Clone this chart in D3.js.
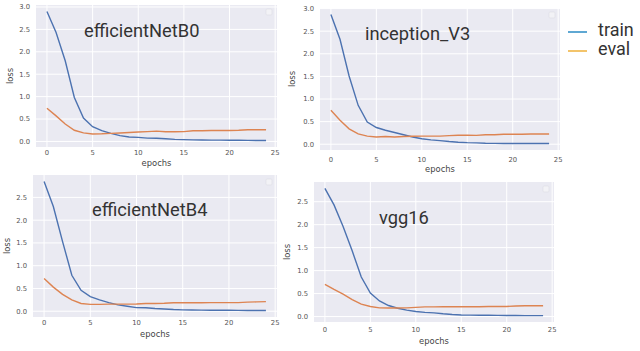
<!DOCTYPE html>
<html><head><meta charset="utf-8">
<script src="https://cdn.jsdelivr.net/npm/d3@7"></script>
<style>
html,body{margin:0;padding:0;background:#fff;}
svg{display:block;}
</style></head>
<body><svg id="c" width="640" height="351"></svg>
<script>
const epochs = [0,1,2,3,4,5,6,7,8,9,10,11,12,13,14,15,16,17,18,19,20,21,22,23,24];
const xTicks = [0,5,10,15,20,25];
const modelNames = ["efficientNetB0","inception_V3","efficientNetB4","vgg16"];
const legendLabels = ["train","eval"];

const trainB0 = [2.90,2.43,1.80,0.98,0.52,0.33,0.24,0.18,0.13,0.10,0.09,0.075,0.07,0.06,0.045,0.04,0.035,0.033,0.03,0.03,0.028,0.026,0.024,0.022,0.02];
const evalB0  = [0.74,0.57,0.39,0.25,0.19,0.165,0.17,0.18,0.19,0.20,0.21,0.22,0.23,0.215,0.215,0.22,0.24,0.24,0.245,0.245,0.245,0.25,0.26,0.26,0.26];
const trainV3 = [2.87,2.32,1.51,0.86,0.49,0.37,0.31,0.26,0.21,0.16,0.12,0.095,0.08,0.06,0.045,0.035,0.03,0.02,0.018,0.017,0.016,0.015,0.015,0.015,0.015];
const evalV3  = [0.75,0.53,0.34,0.23,0.18,0.16,0.17,0.16,0.17,0.175,0.18,0.18,0.18,0.19,0.20,0.20,0.195,0.21,0.21,0.22,0.22,0.22,0.225,0.225,0.225];
const trainB4 = [2.85,2.30,1.53,0.79,0.46,0.32,0.25,0.19,0.14,0.11,0.08,0.075,0.06,0.05,0.037,0.03,0.028,0.025,0.022,0.02,0.02,0.018,0.016,0.015,0.015];
const evalB4  = [0.72,0.53,0.37,0.25,0.17,0.15,0.15,0.155,0.155,0.155,0.16,0.17,0.17,0.175,0.185,0.185,0.185,0.185,0.19,0.19,0.19,0.19,0.20,0.205,0.21];
const trainVGG = [2.79,2.43,1.96,1.43,0.86,0.51,0.34,0.24,0.18,0.14,0.11,0.09,0.08,0.06,0.045,0.035,0.032,0.03,0.028,0.026,0.024,0.022,0.02,0.02,0.02];
const evalVGG  = [0.70,0.59,0.49,0.37,0.27,0.22,0.19,0.185,0.185,0.19,0.20,0.21,0.21,0.215,0.215,0.215,0.215,0.215,0.22,0.22,0.22,0.23,0.235,0.235,0.235];

const trainSeries = [trainB0, trainV3, trainB4, trainVGG];
const evalSeries = [evalB0, evalV3, evalB4, evalVGG];

// layout of each panel (plot area)
const layout = [
  {x0:36, x1:277, y0:5, y1:147, ylab:10, tx:84, ty:37, tickY:155, labY:166},
  {x0:320, x1:560, y0:8, y1:150, ylab:292, tx:365, ty:40, tickY:162, labY:172},
  {x0:33, x1:277, y0:175, y1:317, ylab:7, tx:92, ty:216, tickY:325, labY:337},
  {x0:314, x1:554, y0:182, y1:322, ylab:287, tx:379, ty:224, tickY:332, labY:344}
];

const svg = d3.select("#c");
const tickFont = "DejaVu Sans, sans-serif";

layout.forEach((L, i) => {
  const tr = trainSeries[i], ev = evalSeries[i];
  const all = tr.concat(ev);
  const lo = d3.min(all), hi = d3.max(all);
  const pad = (hi - lo) * 0.05;
  const xmin = d3.min(epochs), xmax = d3.max(epochs);
  const xpad = (xmax - xmin) * 0.05;
  const x = d3.scaleLinear().domain([xmin - xpad, xmax + xpad]).range([L.x0, L.x1]);
  const y = d3.scaleLinear().domain([lo - pad, hi + pad]).range([L.y1, L.y0]);
  const g = svg.append("g");
  g.append("rect").attr("x", L.x0).attr("y", L.y0).attr("width", L.x1 - L.x0).attr("height", L.y1 - L.y0).attr("fill", "#eaeaf2");
  const yTicks = d3.range(0, hi + pad + 1e-9, 0.5);
  // grid
  g.selectAll(".gx").data(xTicks).enter().append("line")
    .attr("x1", d => x(d)).attr("x2", d => x(d)).attr("y1", L.y0).attr("y2", L.y1)
    .attr("stroke", "#fff").attr("stroke-width", 1);
  g.selectAll(".gy").data(yTicks).enter().append("line")
    .attr("y1", d => y(d)).attr("y2", d => y(d)).attr("x1", L.x0).attr("x2", L.x1)
    .attr("stroke", "#fff").attr("stroke-width", 1);
  // tick labels
  g.selectAll(".tx").data(xTicks).enter().append("text")
    .attr("x", d => x(d)).attr("y", L.tickY).attr("text-anchor", "middle")
    .attr("font-family", tickFont).attr("font-size", 6.8).attr("fill", "#555")
    .text(d => d);
  g.selectAll(".ty").data(yTicks).enter().append("text")
    .attr("x", L.x0 - 6).attr("y", d => y(d) + 2.4).attr("text-anchor", "end")
    .attr("font-family", tickFont).attr("font-size", 6.8).attr("fill", "#555")
    .text(d => d.toFixed(1));
  // axis labels
  g.append("text").attr("x", (L.x0 + L.x1) / 2).attr("y", L.labY).attr("text-anchor", "middle")
    .attr("font-family", tickFont).attr("font-size", 8.4).attr("fill", "#444").text("epochs");
  g.append("text").attr("transform", `translate(${L.ylab},${(L.y0 + L.y1) / 2}) rotate(-90)`)
    .attr("text-anchor", "middle").attr("dy", "0.35em")
    .attr("font-family", tickFont).attr("font-size", 8.4).attr("fill", "#444").text("loss");
  // lines
  const line = d3.line().x((d, j) => x(epochs[j])).y(d => y(d));
  g.append("path").datum(tr).attr("d", line).attr("fill", "none").attr("stroke", "#4c72b0").attr("stroke-width", 1.4);
  g.append("path").datum(ev).attr("d", line).attr("fill", "none").attr("stroke", "#dd8452").attr("stroke-width", 1.4);
  // empty legend box
  g.append("rect").attr("x", L.x1 - 11).attr("y", L.y0 + 4).attr("width", 6).attr("height", 6).attr("rx", 1)
    .attr("fill", "#f2f2f6").attr("stroke", "#dcdce4").attr("stroke-width", 0.6);
  // title
  g.append("text").attr("x", L.tx).attr("y", L.ty).attr("font-family", "Roboto, sans-serif")
    .attr("font-size", 18.3).attr("fill", "#333").text(modelNames[i]);
});

// legend
const legendColors = ["#5fa8d3", "#f3c46b"];
const lg = svg.append("g");
legendLabels.forEach((t, k) => {
  const yy = 32 + k * 19;
  lg.append("line").attr("x1", 568).attr("x2", 587).attr("y1", yy).attr("y2", yy)
    .attr("stroke", legendColors[k]).attr("stroke-width", 2);
  lg.append("text").attr("x", 598).attr("y", yy + 4).attr("font-family", "Roboto, sans-serif")
    .attr("font-size", 18).attr("fill", "#333").text(t);
});
</script></body></html>
